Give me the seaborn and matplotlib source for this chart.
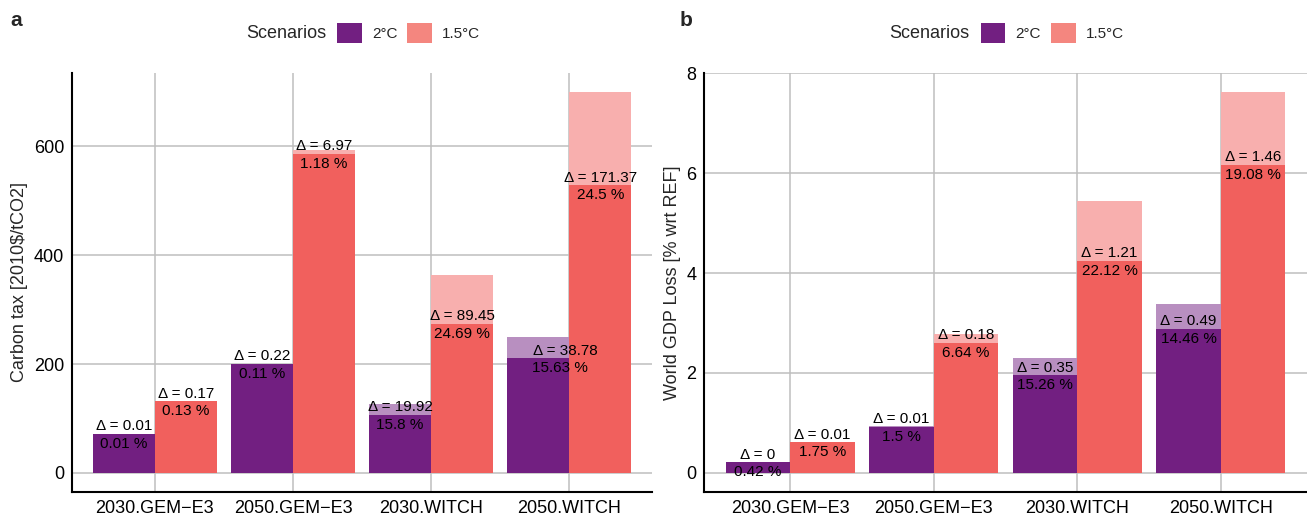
import numpy as np
import pandas as pd
import matplotlib
matplotlib.use("Agg")
import matplotlib.pyplot as plt
from matplotlib.patches import Patch
import seaborn as sns

# ---- data ----
categories = ["2030.GEM\u2212E3", "2050.GEM\u2212E3", "2030.WITCH", "2050.WITCH"]
scenarios = ["2°C", "1.5°C"]

# carbon tax [2010$/tCO2]: total (light bar) and delta (light minus dark)
tax_total_2c = [71.5, 200.5, 126.6, 249.5]
tax_delta_2c = [0.01, 0.22, 19.92, 38.78]
tax_pct_2c = ["0.01", "0.11", "15.8", "15.63"]
tax_total_15c = [131.5, 593.0, 363.0, 700.0]
tax_delta_15c = [0.17, 6.97, 89.45, 171.37]
tax_pct_15c = ["0.13", "1.18", "24.69", "24.5"]

# world GDP loss [% wrt REF]
gdp_total_2c = [0.21, 0.93, 2.30, 3.37]
gdp_delta_2c = [0, 0.01, 0.35, 0.49]
gdp_pct_2c = ["0.42", "1.5", "15.26", "14.46"]
gdp_total_15c = [0.62, 2.78, 5.45, 7.62]
gdp_delta_15c = [0.01, 0.18, 1.21, 1.46]
gdp_pct_15c = ["1.75", "6.64", "22.12", "19.08"]

# ---- style ----
DARK = {"2°C": "#721F81", "1.5°C": "#F1605D"}
LIGHT = {"2°C": "#B88FC0", "1.5°C": "#F8AFAE"}
LEGEND = {"2°C": "#721F81", "1.5°C": "#F4867F"}
GRID = "#BEBEBE"

sns.set_style("white")
plt.rcParams["font.family"] = ["Liberation Sans", "DejaVu Sans"]
plt.rcParams["axes.unicode_minus"] = True


def make_frame(total_2c, delta_2c, pct_2c, total_15c, delta_15c, pct_15c):
    rows = []
    for scen, tot, dl, pc in [("2°C", total_2c, delta_2c, pct_2c),
                              ("1.5°C", total_15c, delta_15c, pct_15c)]:
        for cat, t, d, p in zip(categories, tot, dl, pc):
            rows.append({"category": cat, "scenario": scen, "total": t,
                         "delta": d, "reduced": t - d, "pct": p})
    return pd.DataFrame(rows)


def draw_panel(ax, df, ylim, yticks, ylabel, nudges=None):
    nudges = nudges or {}
    common = dict(x="category", hue="scenario", order=categories,
                  hue_order=scenarios, width=0.9, gap=0, errorbar=None,
                  saturation=1, linewidth=0, legend=False, ax=ax)
    sns.barplot(data=df, y="total", palette=LIGHT, **common)
    sns.barplot(data=df, y="reduced", palette=DARK, **common)

    # labels on the dark bars (containers 2 and 3)
    for scen, cont in zip(scenarios, ax.containers[2:]):
        sub = df[df["scenario"] == scen].set_index("category").loc[categories]
        for (cat, row), bar in zip(sub.iterrows(), cont):
            x = bar.get_x() + bar.get_width() / 2
            y = bar.get_height()
            dx = nudges.get((cat, scen), 0)
            ax.annotate(f"\u0394 = {row['delta']:g}", (x + dx, y),
                        xytext=(0, 0.5), textcoords="offset points",
                        ha="center", va="bottom", fontsize=11, color="black")
            ax.annotate(f"{row['pct']} %", (x + dx * 0.8, y),
                        xytext=(0, -2), textcoords="offset points",
                        ha="center", va="top", fontsize=11, color="black")

    ax.set_xlim(-0.6, len(categories) - 0.4)
    ax.set_ylim(*ylim)
    ax.set_yticks(yticks)
    ax.set_xlabel("")
    ax.set_ylabel(ylabel, fontsize=13, labelpad=4)
    ax.set_axisbelow(True)
    ax.grid(True, axis="both", color=GRID, linewidth=1.1)
    for s in ["top", "right"]:
        ax.spines[s].set_visible(False)
    for s in ["left", "bottom"]:
        ax.spines[s].set_color("black")
        ax.spines[s].set_linewidth(1.5)
    ax.tick_params(axis="both", colors=GRID, length=3.5, width=1.1,
                   labelcolor="black", labelsize=13, pad=2)

    # legend: title to the left, entries in one row, centered above panel
    w = ax.get_position().width * ax.figure.get_figwidth() * ax.figure.dpi
    ax.text(0.5 - 36 / w, 1.095, "Scenarios", transform=ax.transAxes,
            ha="right", va="center", fontsize=13)
    handles = [Patch(facecolor=LEGEND[s], edgecolor="none") for s in scenarios]
    ax.legend(handles, scenarios, loc="center left",
              bbox_to_anchor=(0.5 - 25 / w, 1.095), ncol=2, frameon=False,
              fontsize=11, handlelength=1.63, handleheight=1.63,
              handletextpad=0.65, columnspacing=0.65, borderpad=0,
              borderaxespad=0)
    return ax


fig = plt.figure(figsize=(13.07, 5.19), dpi=100)
ax_a = fig.add_axes([72 / 1307, 27 / 519, 580 / 1307, 419 / 519])
ax_b = fig.add_axes([704 / 1307, 27 / 519, 603 / 1307, 419 / 519])

tax_df = make_frame(tax_total_2c, tax_delta_2c, tax_pct_2c,
                    tax_total_15c, tax_delta_15c, tax_pct_15c)
gdp_df = make_frame(gdp_total_2c, gdp_delta_2c, gdp_pct_2c,
                    gdp_total_15c, gdp_delta_15c, gdp_pct_15c)

draw_panel(ax_a, tax_df, (-35, 735), [0, 200, 400, 600],
           "Carbon tax [2010$/tCO2]",
           nudges={("2050.WITCH", "2°C"): 0.2})
draw_panel(ax_b, gdp_df, (-0.381, 8.001), [0, 2, 4, 6, 8],
           "World GDP Loss [% wrt REF]")

fig.text(10 / 1307, 1 - 20 / 519, "a", fontsize=15, fontweight="bold",
         ha="left", va="center")
fig.text(680 / 1307, 1 - 20 / 519, "b", fontsize=15, fontweight="bold",
         ha="left", va="center")

fig.savefig("out.png", dpi=100)
